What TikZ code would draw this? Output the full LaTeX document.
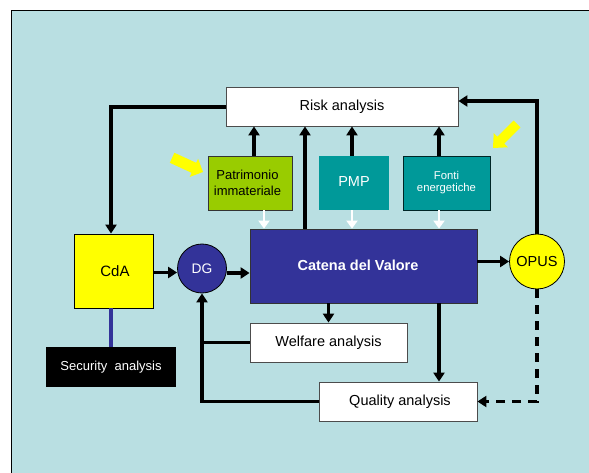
\documentclass[tikz,border=0pt]{standalone}
\usepackage{fontspec}
\setmainfont{Liberation Sans}
\usetikzlibrary{arrows.meta}
\definecolor{bgc}{RGB}{185,223,226}
\definecolor{navy}{RGB}{51,51,153}
\definecolor{lime}{RGB}{153,204,0}
\definecolor{teal2}{RGB}{0,153,153}
\definecolor{yel}{RGB}{255,255,0}
\tikzset{
  fs/.style={font=\fontsize{14.5}{17}\selectfont},
  wbox/.style={draw=black!70, line width=0.8pt, fill=white, inner sep=0pt, fs},
  blk/.style={draw=black, line width=3.4pt, -{Triangle[width=11pt,length=9pt]}},
  ln/.style={draw=black, line width=3.4pt},
  dsh/.style={draw=black, line width=3.4pt, dash pattern=on 9pt off 7pt, -{Triangle[width=11pt,length=9pt]}},
  wht/.style={draw=white, line width=2pt, -{Triangle[width=11pt,length=8pt]}, white},
  yarrow/.style={fill=yel, draw=none}
}
\begin{document}
\begin{tikzpicture}[x=1pt,y=-1pt]
\useasboundingbox (0,0) rectangle (589,473);
\fill[white] (0,0) rectangle (589,473);
\fill[bgc] (11,11) rectangle (600,480);
\draw[black, line width=1pt] (11,480) -- (11,11) -- (600,11);

% nodes
\node[wbox, minimum width=232pt, minimum height=39pt] (ra) at (342,106.5) {Risk analysis};
\node[draw=black!80, line width=0.8pt, fill=lime, inner sep=0pt, minimum width=84pt, minimum height=54pt, align=center, font=\fontsize{13}{16}\selectfont] (pat) at (250,183) {\hspace*{-5pt}Patrimonio\\\hspace*{-5pt}immateriale};
\node[fill=teal2, inner sep=0pt, minimum width=70pt, minimum height=54pt, text=white, fs] (pmp) at (354,183) {\raisebox{3pt}{PMP}};
\node[draw=black!75!teal2, line width=0.8pt, fill=teal2, inner sep=0pt, minimum width=87pt, minimum height=54pt, text=white, align=center, font=\fontsize{11.3}{14}\selectfont] (fon) at (446.5,183) {\raisebox{3pt}{\shortstack{Fonti\\energetiche}}};
\node[draw=black!80, line width=0.8pt, fill=navy, inner sep=0pt, minimum width=227pt, minimum height=74pt, text=white, font=\fontsize{14.5}{17}\selectfont\bfseries] (cat) at (363.5,266) {\hspace*{-11pt}\raisebox{2pt}{Catena del Valore}};
\node[draw=black, line width=0.8pt, fill=yel, inner sep=0pt, minimum width=79pt, minimum height=74pt, font=\fontsize{15}{18}\selectfont] (cda) at (113.5,271) {\hspace*{3pt}CdA};
\node[circle, draw=black, line width=0.8pt, fill=navy, inner sep=0pt, minimum size=49pt, text=white, font=\fontsize{13.8}{16}\selectfont] (dg) at (202,268.5) {DG};
\node[circle, draw=black, line width=0.8pt, fill=yel, inner sep=0pt, minimum size=55pt, fs] (opus) at (537,261.5) {OPUS};
\node[fill=black, inner sep=0pt, minimum width=130pt, minimum height=40pt, text=white, font=\fontsize{13}{16}\selectfont] (sec) at (111,367) {Security\ \ analysis};
\node[wbox, minimum width=157pt, minimum height=39pt] (wa) at (328.5,342.5) {Welfare analysis};
\node[wbox, minimum width=158pt, minimum height=39pt] (qa) at (398,401.5) {\hspace*{4pt}Quality analysis};

% channel coordinates
\coordinate (v111) at (111,0);
\coordinate (v254) at (254,0);
\coordinate (v305) at (305,0);
\coordinate (v352) at (352,0);
\coordinate (v439) at (439,0);
\coordinate (w264) at (264,0);

% connectors
\draw[blk] ([yshift=-0.5pt]ra.west) -| (cda.north -| v111);
\draw[blk] (pat.north -| v254) -- (ra.south -| v254);
\draw[blk] (cat.north -| v305) -- (ra.south -| v305);
\draw[blk] (pmp.north -| v352) -- (ra.south -| v352);
\draw[blk] (fon.north -| v439) -- (ra.south -| v439);
\draw[wht] (pat.south -| w264) -- (cat.north -| w264);
\draw[wht] (pmp.south -| v352) -- (cat.north -| v352);
\draw[wht] (fon.south -| v439) -- (cat.north -| v439);
\draw[blk] ([yshift=-1.5pt]cda.east) -- ([yshift=-4pt]dg.west);
\draw[blk] ([yshift=-4.5pt]dg.east) -- ([yshift=-4.5pt]dg.east -| cat.west);
\draw[blk] (opus -| cat.east) -- (opus.west);
\draw[blk] (opus.north) |- ([yshift=5.5pt]ra.east);
\draw[dsh] (opus.south) |- (qa.east);
\draw[blk] (cat.south -| wa.north) -- (wa.north);
\draw[blk] (cat.south -| v439) -- (qa.north -| v439);
\draw[blk] (qa.west) -| (dg.south);
\draw[ln] (wa.west) -- (wa.west -| dg.south);
\draw[draw=navy, line width=3.2pt] (cda.south -| v111) -- (sec.north -| v111);

% yellow block arrows
\fill[yarrow, shift={(203,172)}, rotate=-24.7] (0,0) -- (-10,10) -- (-10,5.5) -- (-34,5.5) -- (-34,-5.5) -- (-10,-5.5) -- (-10,-10) -- cycle;
\fill[yarrow, shift={(493,148)}, rotate=225] (0,0) -- (-11,10) -- (-11,4.8) -- (-34,4.8) -- (-34,-4.8) -- (-11,-4.8) -- (-11,-10) -- cycle;
\end{tikzpicture}
\end{document}
